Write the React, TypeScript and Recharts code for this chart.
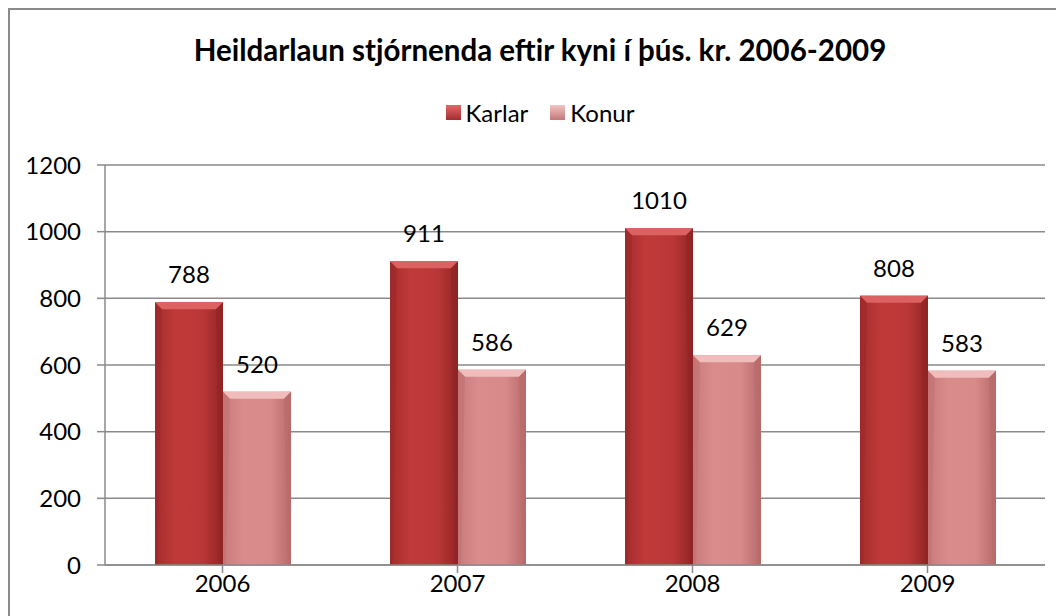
import React from 'react';
import { BarChart, Bar, XAxis, YAxis, CartesianGrid, LabelList } from 'recharts';

const years = ['2006', '2007', '2008', '2009'];
const karlar = [788, 911, 1010, 808];
const konur = [520, 586, 629, 583];
const yTicks = [0, 200, 400, 600, 800, 1000, 1200];

const data = years.map((y, i) => ({ year: y, Karlar: karlar[i], Konur: konur[i] }));

const FONT = 'Lato, "Open Sans", sans-serif';

const BevelBar = (props: any) => {
  const { x, y, width, height, kind } = props;
  if (height == null || height <= 0) return null;
  const b = 7;
  const main = kind === 'm' ? 'url(#gradM)' : 'url(#gradF)';
  const top = kind === 'm' ? '#dc6262' : '#f0bcbc';
  const side = kind === 'm' ? '#8e2424' : '#b86a6a';
  return (
    <g>
      <rect x={x} y={y} width={width} height={height} fill={main} />
      <polygon points={`${x},${y} ${x + width},${y} ${x + width - b},${y + b} ${x + b},${y + b}`} fill={top} />
      <polygon points={`${x + width},${y} ${x + width},${y + height} ${x + width - 3},${y + height} ${x + width - b},${y + b}`} fill={side} opacity={0.6} />
      <polygon points={`${x},${y} ${x + b},${y + b} ${x + 3},${y + height} ${x},${y + height}`} fill={side} opacity={0.35} />
    </g>
  );
};

export default function App() {
  return (
    <div
      style={{
        position: 'relative',
        width: 1070,
        height: 640,
        border: '2px solid #8a8a8a',
        background: '#fff',
        fontFamily: FONT,
      }}
    >
      <div
        style={{
          position: 'absolute',
          left: 0,
          width: 1060,
          top: 22,
          textAlign: 'center',
          fontWeight: 700,
          fontSize: 29.5,
          color: '#000',
        }}
      >
        Heildarlaun stjórnenda eftir kyni í þús. kr. 2006-2009
      </div>
      <div
        style={{
          position: 'absolute',
          left: 0,
          width: 1060,
          top: 88,
          display: 'flex',
          justifyContent: 'center',
          alignItems: 'center',
          fontSize: 24,
          color: '#000',
        }}
      >
        <span style={{ display: 'inline-block', width: 15, height: 15, background: 'linear-gradient(#e06a6a, #a42c2c)', marginRight: 5 }} />
        <span style={{ marginRight: 22 }}>Karlar</span>
        <span style={{ display: 'inline-block', width: 15, height: 15, background: 'linear-gradient(#f2c4c4, #c27878)', marginRight: 5 }} />
        <span>Konur</span>
      </div>
      <BarChart
        width={1066}
        height={636}
        data={data}
        margin={{ top: 155, right: 31, left: 0, bottom: 51 }}
        barCategoryGap={50}
        barGap={0}
      >
        <defs>
          <linearGradient id="gradM" x1="0" y1="0" x2="1" y2="0">
            <stop offset="0%" stopColor="#a52c2c" />
            <stop offset="30%" stopColor="#c03a3a" />
            <stop offset="70%" stopColor="#bb3737" />
            <stop offset="100%" stopColor="#922424" />
          </linearGradient>
          <linearGradient id="gradF" x1="0" y1="0" x2="1" y2="0">
            <stop offset="0%" stopColor="#c97a7a" />
            <stop offset="30%" stopColor="#da8c8c" />
            <stop offset="70%" stopColor="#d88989" />
            <stop offset="100%" stopColor="#b86a6a" />
          </linearGradient>
        </defs>
        <CartesianGrid vertical={false} stroke="#8a8a8a" strokeWidth={1.5} />
        <XAxis
          dataKey="year"
          stroke="#8a8a8a"
          strokeWidth={1.5}
          tickLine={{ stroke: '#8a8a8a' }}
          tickSize={8}
          tick={{ fill: '#000', fontSize: 24, fontFamily: FONT }}
          interval={0}
          height={30}
        />
        <YAxis
          ticks={yTicks}
          domain={[0, 1200]}
          width={95}
          stroke="#8a8a8a"
          strokeWidth={1.5}
          tickSize={8}
          tickMargin={16}
          tick={{ fill: '#000', fontSize: 24, fontFamily: FONT }}
        />
        <Bar dataKey="Karlar" isAnimationActive={false} shape={(p: any) => <BevelBar {...p} kind="m" />}>
          <LabelList dataKey="Karlar" position="top" offset={19} fill="#000" fontSize={24} fontFamily={FONT} />
        </Bar>
        <Bar dataKey="Konur" isAnimationActive={false} shape={(p: any) => <BevelBar {...p} kind="f" />}>
          <LabelList dataKey="Konur" position="top" offset={19} fill="#000" fontSize={24} fontFamily={FONT} />
        </Bar>
      </BarChart>
    </div>
  );
}
